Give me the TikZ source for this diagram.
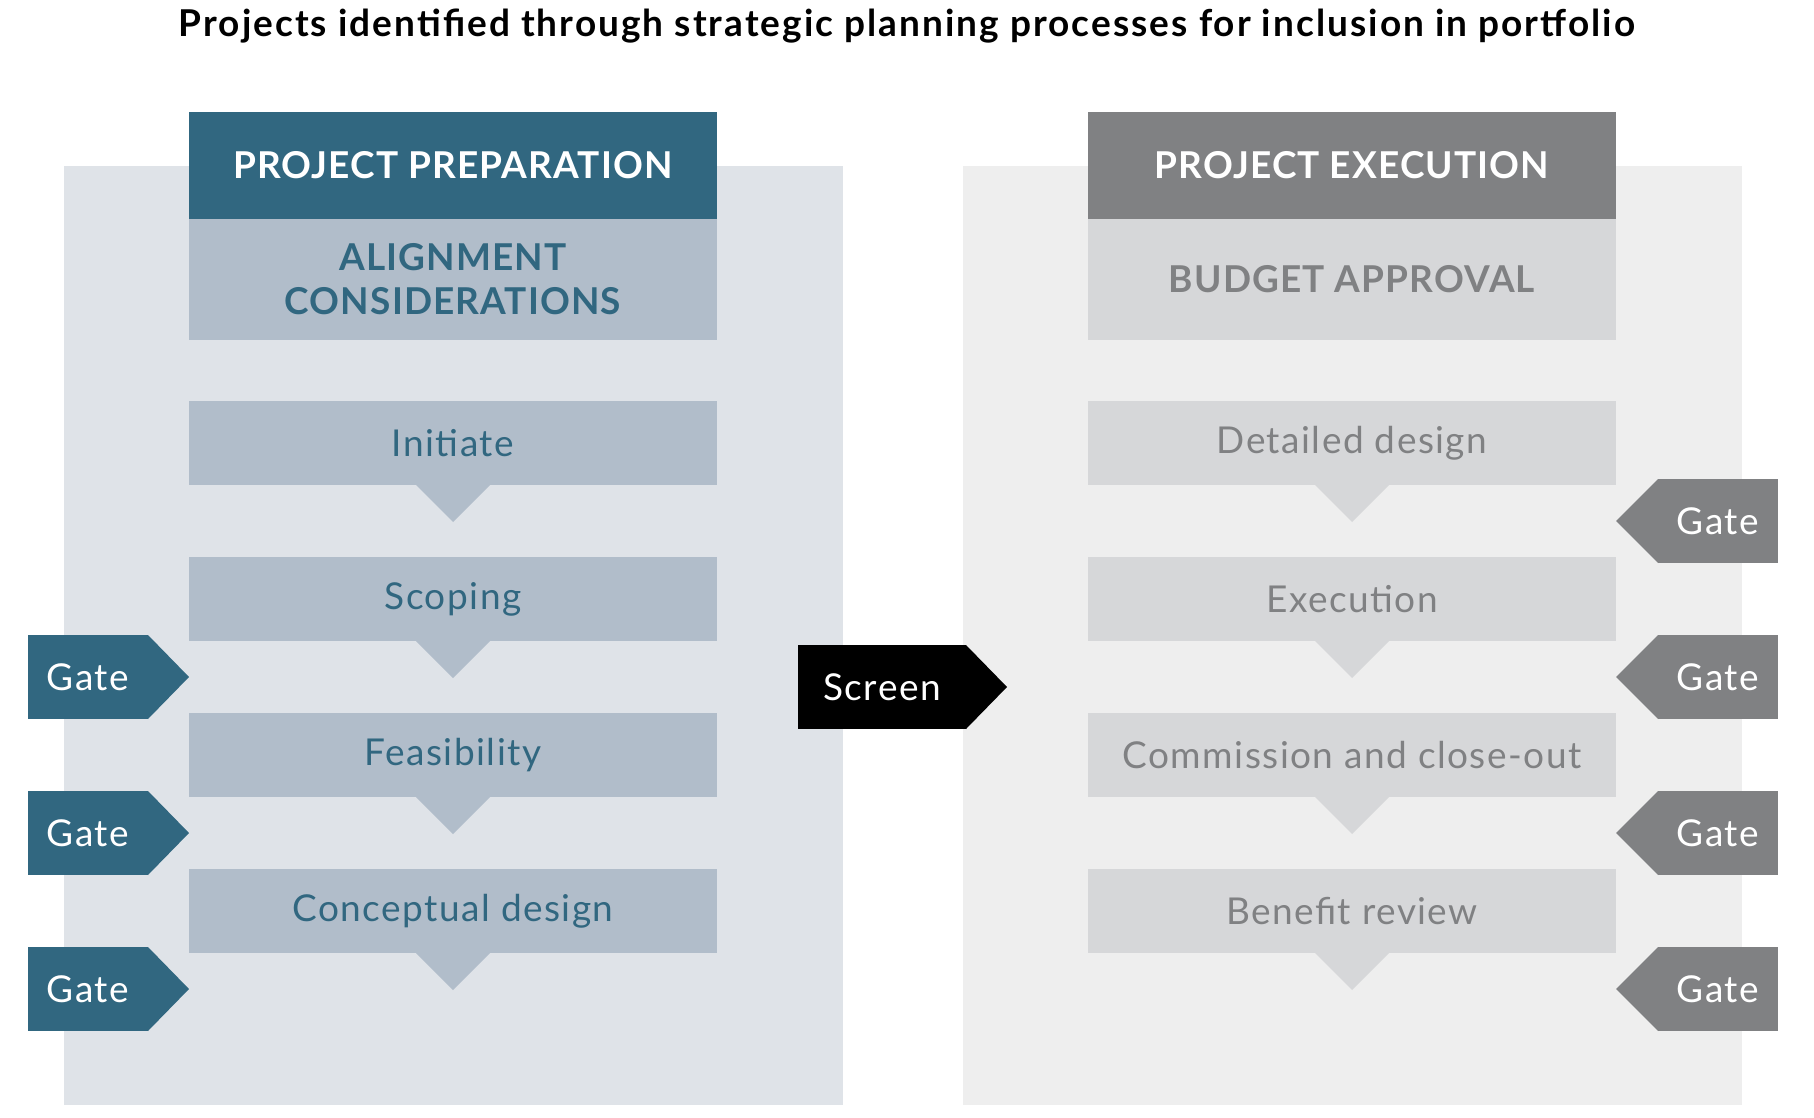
\documentclass[tikz,border=0pt]{standalone}
\usepackage{fontspec}
\setmainfont{Lato}
\usetikzlibrary{positioning}

\definecolor{prepdark}{HTML}{316780}
\definecolor{preplight}{HTML}{B1BDCA}
\definecolor{prepbg}{HTML}{DFE3E8}
\definecolor{execdark}{HTML}{808183}
\definecolor{execlight}{HTML}{D6D7D9}
\definecolor{execbg}{HTML}{EEEEEE}

\begin{document}
\begin{tikzpicture}[x=1pt,y=-1pt,
    panel/.style={anchor=north west,inner sep=0,outer sep=0,minimum width=779,minimum height=939},
    head/.style={anchor=north west,inner sep=0,outer sep=0,minimum width=528,minimum height=107,text=white,font=\fontsize{37}{44}\selectfont\bfseries\addfontfeatures{LetterSpace=3}},
    sub/.style={inner sep=0,outer sep=0,minimum width=528,minimum height=121,align=center,font=\fontsize{37}{44}\selectfont\bfseries\addfontfeatures{LetterSpace=3}},
    stepbox/.style={inner sep=0,outer sep=0,minimum width=528,minimum height=84,font=\fontsize{37}{44}\selectfont\addfontfeatures{LetterSpace=4}},
    gate/.style={inner sep=0,outer sep=0,minimum width=120,minimum height=84,text=white,font=\fontsize{37}{44}\selectfont\addfontfeatures{LetterSpace=4}}]

    \useasboundingbox (0,0) rectangle (1814,1118);

    \node[font=\fontsize{37}{44}\selectfont\bfseries\addfontfeatures{LetterSpace=5.5}] (title) at (907,26) {Projects identified through strategic planning processes for inclusion in portfolio};

    % panels
    \node[panel,fill=prepbg] (prep) at (64,166) {};
    \node[panel,fill=execbg] (exec) at (963,166) {};

    \node[head,fill=prepdark] (prephead) at (189,112) {PROJECT PREPARATION};
    \node[sub,fill=preplight,text=prepdark,below=0 of prephead] (align) {ALIGNMENT\\CONSIDERATIONS};
    \node[head,fill=execdark] (exechead) at (1088,112) {PROJECT EXECUTION};
    \node[sub,fill=execlight,text=execdark,below=0 of exechead] (budget) {BUDGET APPROVAL};

    % steps
    \foreach \y/\name/\txt in {443/p1/Initiate,599/p2/Scoping,755/p3/Feasibility,911/p4/Conceptual design}{
        \node[stepbox,fill=preplight,text=prepdark] (\name) at (453,\y) {\txt};
        \fill[preplight] ([xshift=-37pt]\name.south) -- ([xshift=37pt]\name.south) -- ([yshift=-37pt]\name.south) -- cycle;
    }
    \foreach \y/\name/\txt in {443/e1/Detailed design,599/e2/Execution,755/e3/Commission and close-out,911/e4/Benefit review}{
        \node[stepbox,fill=execlight,text=execdark] (\name) at (1352,\y) {\txt};
        \fill[execlight] ([xshift=-37pt]\name.south) -- ([xshift=37pt]\name.south) -- ([yshift=-37pt]\name.south) -- cycle;
    }

    % gates
    \foreach \y/\name in {677/g1,833/g2,989/g3}{
        \node[gate,fill=prepdark] (\name) at (88,\y) {Gate};
        \fill[prepdark] (\name.north east) -- ([xshift=41pt]\name.east) -- (\name.south east) -- cycle;
    }
    \foreach \y/\name in {521/h1,677/h2,833/h3,989/h4}{
        \node[gate,fill=execdark] (\name) at (1718,\y) {Gate};
        \fill[execdark] (\name.north west) -- ([xshift=-42pt]\name.west) -- (\name.south west) -- cycle;
    }

    \node[gate,fill=black,minimum width=168] (screen) at (882,687) {Screen};
    \fill[black] (screen.north east) -- ([xshift=41pt]screen.east) -- (screen.south east) -- cycle;

\end{tikzpicture}
\end{document}
